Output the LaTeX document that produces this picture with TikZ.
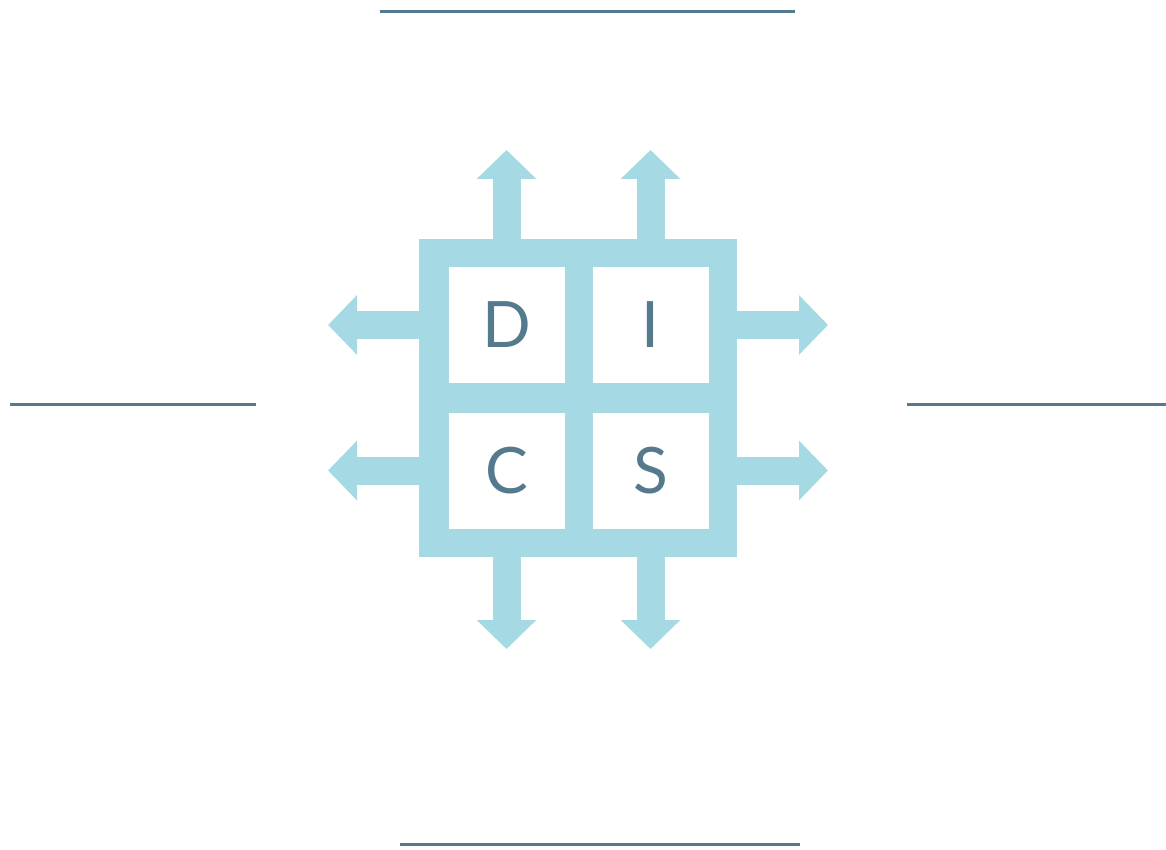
\documentclass[tikz,border=0pt]{standalone}
\usepackage{fontspec}
\setmainfont{Lato}
\usepackage{tikz}
\usetikzlibrary{arrows.meta,positioning}
\definecolor{discblue}{HTML}{A5D9E4}
\definecolor{discdark}{HTML}{557A8E}
\tikzset{
  frame/.style={fill=discblue, draw=none, minimum size=318pt, inner sep=0pt},
  cell/.style={fill=white, draw=none, minimum size=116pt, inner sep=0pt,
    text=discdark, font=\fontsize{64}{64}\selectfont},
  bigarrow/.style={draw=discblue, line width=28pt,
    -{Triangle[width=58pt,length=29pt]}},
  rule/.style={draw=discdark, line width=3pt}
}
\begin{document}
\begin{tikzpicture}[x=1pt, y=-1pt]
\useasboundingbox (0,0) rectangle (1166,850);
%%%%% Frame and cells %%%%%
\node[frame] (frame) at (578,398) {};
\node[cell] (d) at (506.5,325) {D};
\node[cell] (i) at (650.5,325) {I};
\node[cell] (c) at (506.5,470.5) {C};
\node[cell] (s) at (650.5,470.5) {S};
%%%%% Arrow tips %%%%%
\coordinate (upD) at (506.5,150);
\coordinate (upI) at (650.5,150);
\coordinate (downC) at (506.5,649);
\coordinate (downS) at (650.5,649);
\coordinate (leftD) at (328,325);
\coordinate (leftC) at (328,470.5);
\coordinate (rightI) at (828,325);
\coordinate (rightS) at (828,470.5);
\draw[bigarrow] (upD |- frame.north) -- (upD);
\draw[bigarrow] (upI |- frame.north) -- (upI);
\draw[bigarrow] (downC |- frame.south) -- (downC);
\draw[bigarrow] (downS |- frame.south) -- (downS);
\draw[bigarrow] (leftD -| frame.west) -- (leftD);
\draw[bigarrow] (leftC -| frame.west) -- (leftC);
\draw[bigarrow] (rightI -| frame.east) -- (rightI);
\draw[bigarrow] (rightS -| frame.east) -- (rightS);
%%%%% Rules %%%%%
\draw[rule] (380,12) -- (795,12);
\draw[rule] (10,404) -- (256,404);
\draw[rule] (907,404) -- (1166,404);
\draw[rule] (400,844) -- (800,844);
\end{tikzpicture}
\end{document}
